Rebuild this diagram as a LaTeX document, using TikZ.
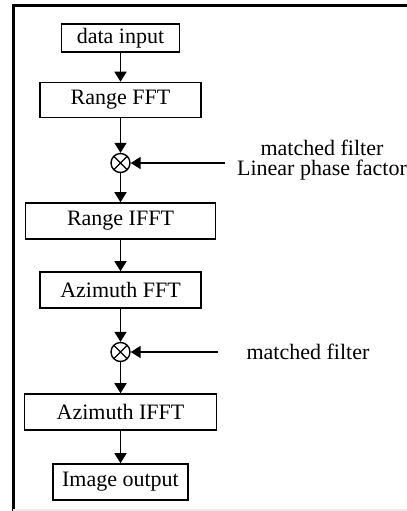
\documentclass[tikz,border=0pt]{standalone}
\usepackage{fontspec}
\setmainfont{Liberation Serif}
\usepackage{tikz}
\usetikzlibrary{arrows.meta, positioning}
\definecolor{FrameGray}{RGB}{235,235,235}

\begin{document}
\begin{tikzpicture}[x=0.5pt,y=-0.5pt,
    font=\fontsize{11}{9.6}\selectfont,
    blk/.style={draw, line width=0.8pt, inner sep=0pt},
    mult/.style={circle, draw, line width=0.7pt, minimum size=9.5pt, inner sep=0pt,
      path picture={\draw[line width=0.7pt] (path picture bounding box.north east) -- (path picture bounding box.south west)
        (path picture bounding box.north west) -- (path picture bounding box.south east);}},
    arr/.style={-{Triangle[length=5pt,width=6pt]}, line width=0.9pt}]
  \useasboundingbox (0,0) rectangle (407,511);
  % frame
  \draw[line width=1.5pt] (13.5,511) -- (13.5,5.3) -- (407,5.3);
  \draw[FrameGray, line width=0.6pt] (13,510) -- (407,510);

  % processing blocks
  \foreach \n/\yy/\w/\h/\t in {din/38/118/28/data input, rfft/100/161/35/Range FFT,
      rifft/221/190/36/Range IFFT, afft/290/161/36/Azimuth FFT,
      aifft/412/192/36/Azimuth IFFT, iout/482/135/36/Image output}
    \node[blk, minimum width=\w*0.5pt, minimum height=\h*0.5pt] (\n) at (120.5,\yy) {\t};

  \node[mult] (mul1) at (120.5,163) {};
  \node[mult] (mul2) at (120.5,352) {};

  % side inputs
  \node[align=center] (mf1) at (322,160) {matched filter\\Linear phase factor};
  \node (mf2) at (308,352) {matched filter};
  \coordinate (s1) at (225,163);
  \coordinate (s2) at (218,352);

  \foreach \a/\b in {din/rfft, rfft/mul1, mul1/rifft, rifft/afft, afft/mul2, mul2/aifft, aifft/iout}
    \draw[arr] (\a) -- (\b);
  \draw[arr] (s1) -- (mul1);
  \draw[arr] (s2) -- (mul2);
\end{tikzpicture}
\end{document}
